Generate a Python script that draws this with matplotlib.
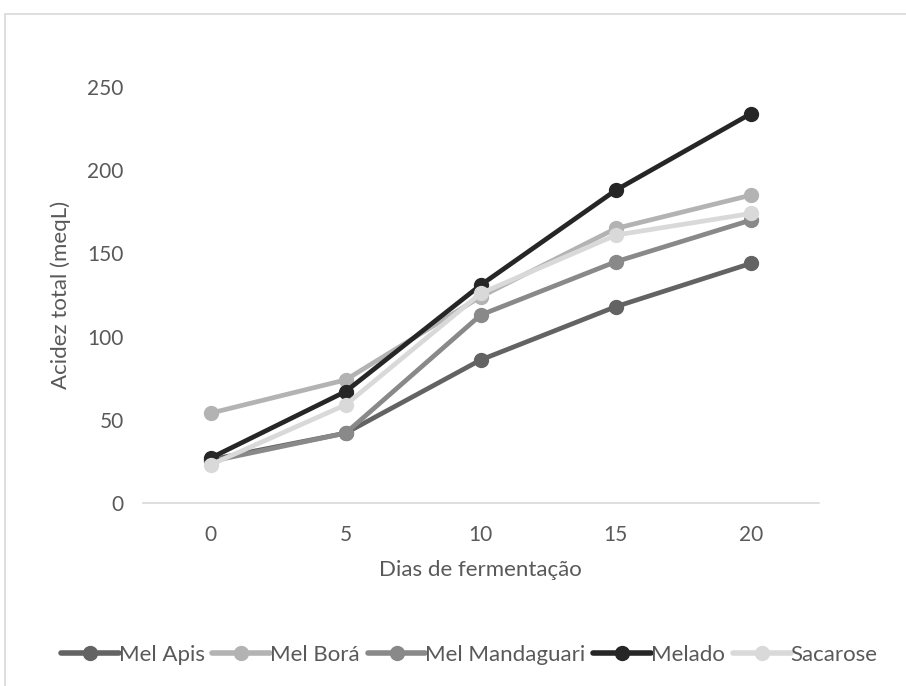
import matplotlib.pyplot as plt
from matplotlib.patches import Rectangle

# Days of fermentation (categories) and total acidity per sample.
days = ['0', '5', '10', '15', '20']
mel_apis = [26, 42, 86, 118, 144]
mel_bora = [54, 74, 124, 165, 185]
mel_mandaguari = [25, 42, 113, 145, 170]
melado = [27, 67, 131, 188, 234]
sacarose = [23, 59, 126, 161, 174]

series = [
    ('Mel Apis', mel_apis, '#636363'),
    ('Mel Borá', mel_bora, '#b3b3b3'),
    ('Mel Mandaguari', mel_mandaguari, '#898989'),
    ('Melado', melado, '#262626'),
    ('Sacarose', sacarose, '#d9d9d9'),
]

plt.rcParams['font.family'] = ['Lato', 'DejaVu Sans']
text_color = '#595959'

fig = plt.figure(figsize=(9.06, 6.86), dpi=100)
ax = fig.add_axes([143 / 906, 1 - 503 / 686, 675.5 / 906, 416 / 686])

x = list(range(len(days)))
for name, values, color in series:
    ax.plot(x, values, color=color, lw=3.4, marker='o', markersize=10,
            solid_capstyle='round', label=name)

ax.set_xlim(-0.5, len(days) - 0.5)
ax.set_ylim(0, 250)
ax.set_xticks(x)
ax.set_xticklabels(days)
ax.set_yticks(range(0, 251, 50))

for side in ['top', 'right', 'left']:
    ax.spines[side].set_visible(False)
ax.spines['bottom'].set_color('#d9d9d9')
ax.spines['bottom'].set_linewidth(1.2)
ax.tick_params(length=0, labelsize=15, colors=text_color)
ax.tick_params(axis='x', pad=16)
ax.tick_params(axis='y', pad=14)

ax.set_xlabel('Dias de fermentação', fontsize=16, color=text_color, labelpad=11)
ax.set_ylabel('Acidez total (meqL)', fontsize=16, color=text_color, labelpad=12)

leg = fig.legend(loc='center', bbox_to_anchor=(0.518, 1 - 655 / 686), ncol=5,
                 frameon=False, fontsize=16, handlelength=2.6,
                 handletextpad=0.0, columnspacing=0.35)
for t in leg.get_texts():
    t.set_color(text_color)
for line in leg.get_lines():
    line.set_linewidth(4)

# thin light frame around the chart area
fig.patches.append(Rectangle((5 / 906, -0.1), 1.1, 1.1 - 14 / 686,
                             transform=fig.transFigure, fill=False,
                             edgecolor='#d9d9d9', lw=1.2))

fig.savefig('out.png', dpi=100)
